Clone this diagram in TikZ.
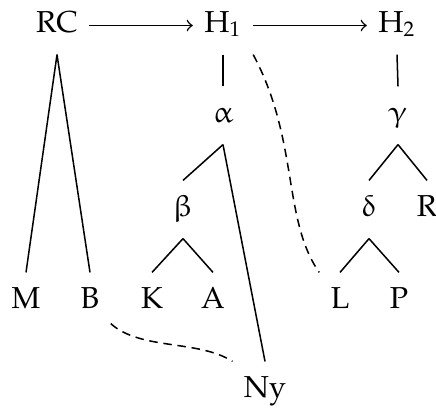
\documentclass[tikz,border=0pt]{standalone}
\usepackage{pxfonts}
\usepackage[Euler]{upgreek}
\begin{document}
\begin{tikzpicture}[x=0.33pt,y=-0.33pt,
  tn/.style={anchor=base,inner xsep=3.6pt,inner ysep=0pt,text height=11.55pt,text depth=7.26pt},
  edge/.style={line width=0.5pt},
  link/.style={line width=0.5pt,dash pattern=on 2.8pt off 1.9pt},
  arr/.style={line width=0.5pt,->}]
\useasboundingbox (0,0) rectangle (436,407);
% top row
\node[tn] (rc) at (57,32) {$\mathrm{RC}$};
\node[tn] (h1) at (223,32) {$\mathrm{H}_1$};
\node[tn] (h2) at (397,32) {$\mathrm{H}_2$};
% second row
\node[tn] (al) at (223,122) {$\upalpha$};
\node[tn] (ga) at (398,122) {$\upgamma$};
% third row
\node[tn] (be) at (183,216) {$\upbeta$};
\node[tn] (de) at (369,216) {$\updelta$};
\node[tn] (r) at (427,216) {$\mathrm{R}$};
% leaves
\node[tn] (m) at (26,308) {$\mathrm{M}$};
\node[tn] (b) at (90,308) {$\mathrm{B}$};
\node[tn] (k) at (152,308) {$\mathrm{K}$};
\node[tn] (a) at (213,308) {$\mathrm{A}$};
\node[tn] (l) at (340,308) {$\mathrm{L}$};
\node[tn] (p) at (399,308) {$\mathrm{P}$};
\node[tn] (ny) at (265,397) {$\mathrm{Ny}$};
% arrows
\draw[arr] (rc.east) -- (h1.west);
\draw[arr] (h1.east) -- (h2.west);
% tree edges
\draw[edge] (rc.south) -- (m.north);
\draw[edge] (rc.south) -- (b.north);
\draw[edge] (h1.south) -- (al.north);
\draw[edge] (al.south) -- (be.north);
\draw[edge] (al.south) -- (ny.north);
\draw[edge] (be.south) -- (k.north);
\draw[edge] (be.south) -- (a.north);
\draw[edge] (h2.south) -- (ga.north);
\draw[edge] (ga.south) -- (de.north);
\draw[edge] (ga.south) -- (r.north);
\draw[edge] (de.south) -- (l.north);
\draw[edge] (de.south) -- (p.north);
% dashed links
\draw[link] (h1.south east) .. controls +(46,86) and +(-37,-53) .. (l.north west);
\draw[link] ([shift={(0,-7)}]b.south east) .. controls +(30,27) and +(-34,-22) .. (ny.north west);
\end{tikzpicture}
\end{document}
